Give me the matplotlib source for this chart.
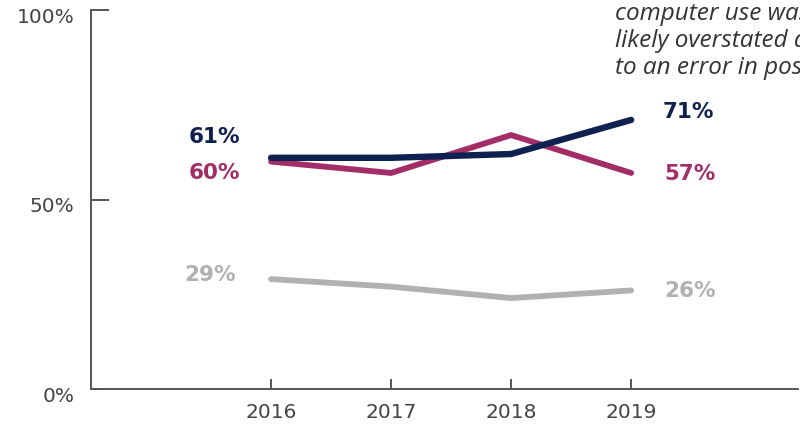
import matplotlib
matplotlib.use("Agg")
import matplotlib.pyplot as plt

years = [2016, 2017, 2018, 2019]
navy_vals = [61, 61, 62, 71]
pink_vals = [60, 57, 67, 57]
gray_vals = [29, 27, 24, 26]
y_ticks = [0, 50, 100]
y_ticklabels = ["0%", "50%", "100%"]
note_lines = ["*The 2018 figure for using a",
              "computer use was",
              "likely overstated due",
              "to an error in post-"]

NAVY = "#0f2150"
PINK = "#a32d67"
GRAY = "#b1b1b4"
AXC = "#555555"
TXT = "#444444"

W, H = 800, 426
fig = plt.figure(figsize=(8, 4.26), dpi=100)
ax = fig.add_axes([91 / W, (H - 389) / H, (798 - 91) / W, (389 - 10) / H])
ax.set_xlim(2014.5, 2020.39)
ax.set_ylim(0, 100)

for vals, col, lw in [(gray_vals, GRAY, 4.2), (pink_vals, PINK, 4.2), (navy_vals, NAVY, 4.6)]:
    ax.plot(years, vals, color=col, lw=lw, solid_capstyle="round", solid_joinstyle="miter", zorder=3)

for s in ["top", "right"]:
    ax.spines[s].set_visible(False)
for s in ["left", "bottom"]:
    ax.spines[s].set_color(AXC)
    ax.spines[s].set_linewidth(1.4)

ax.set_yticks(y_ticks)
ax.set_yticklabels(y_ticklabels)
ax.set_xticks(years)
ax.set_xticklabels([str(y) for y in years])
ax.tick_params(axis="y", direction="in", length=13, width=1.4, color=AXC,
               labelsize=14.5, labelcolor=TXT, pad=12)
ax.tick_params(axis="x", direction="in", length=7, width=1.4, color=AXC,
               labelsize=14.5, labelcolor=TXT, pad=10)
for lbl in ax.get_yticklabels():
    lbl.set_verticalalignment("top")
    lbl.set_transform(lbl.get_transform() + matplotlib.transforms.ScaledTranslation(0, 0.02, fig.dpi_scale_trans))

lab_kw = dict(fontsize=15.5, fontweight="bold", va="center", ha="center")
ax.text(2016 - 0.47, navy_vals[0] + 5.5, f"{navy_vals[0]}%", color=NAVY, **lab_kw)
ax.text(2016 - 0.47, pink_vals[0] - 3.0, f"{pink_vals[0]}%", color=PINK, **lab_kw)
ax.text(2016 - 0.51, gray_vals[0] + 1.2, f"{gray_vals[0]}%", color=GRAY, **lab_kw)
ax.text(2019 + 0.48, navy_vals[3] + 2.2, f"{navy_vals[3]}%", color=NAVY, **lab_kw)
ax.text(2019 + 0.49, pink_vals[3] - 0.3, f"{pink_vals[3]}%", color=PINK, **lab_kw)
ax.text(2019 + 0.49, gray_vals[3] - 0.2, f"{gray_vals[3]}%", color=GRAY, **lab_kw)

for i, line in enumerate(note_lines):
    base_px = -7 + 27 * i
    fig.text(615 / W, 1 - base_px / H, line, fontsize=17.5, style="italic",
             family=["Open Sans", "DejaVu Sans"], color="#333333", ha="left", va="baseline")

fig.savefig("out.png", dpi=100)
